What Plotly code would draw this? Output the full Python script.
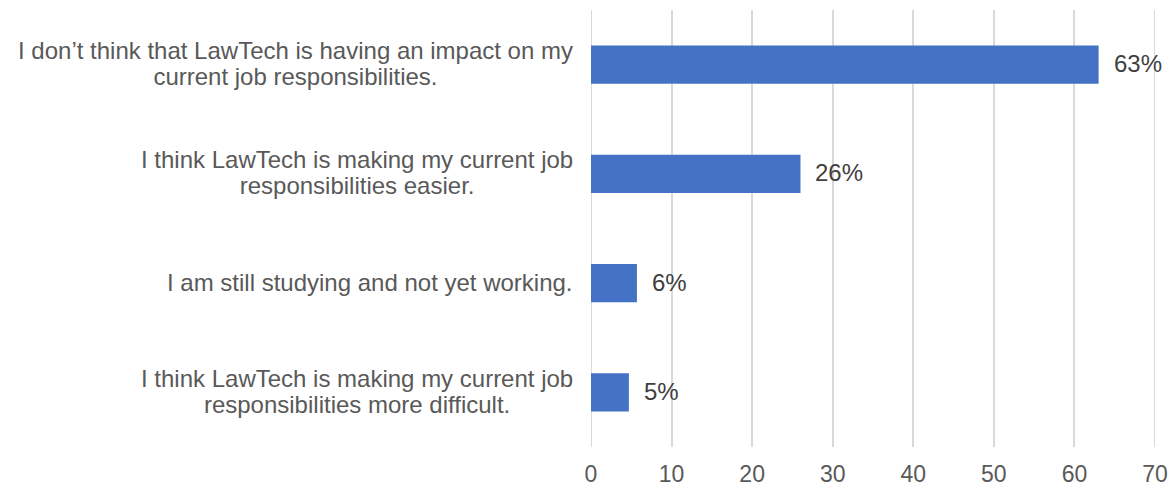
import plotly.graph_objects as go

categories = [
    "I don’t think that LawTech is having an impact on my<br>current job responsibilities.",
    "I think LawTech is making my current job<br>responsibilities easier.",
    "I am still studying and not yet working.",
    "I think LawTech is making my current job<br>responsibilities more difficult.",
]
values = [63.0, 26.0, 5.7, 4.7]
labels = ["63%", "26%", "6%", "5%"]
x_ticks = [0, 10, 20, 30, 40, 50, 60, 70]

font_family = "Liberation Sans, Arial, sans-serif"
gray = "#595959"
grid_color = "#D9D9D9"

fig = go.Figure()
fig.add_trace(go.Bar(
    y=categories, x=values, orientation="h",
    marker=dict(color="#4472C4", line=dict(width=0)),
    hoverinfo="skip",
))


def big(text, size=24):
    return "<br>".join(
        f"<span style='font-size:{size}px'>{part}</span>" for part in text.split("<br>")
    )


annotations = []
for c, v, t in zip(categories, values, labels):
    annotations.append(dict(
        x=v, y=c, xref="x", yref="y", text=t, showarrow=False,
        xanchor="left", xshift=13, yshift=1,
        font=dict(family=font_family, size=24, color="#404040"),
    ))
    annotations.append(dict(
        x=0, y=c, xref="paper", yref="y", text=big(c), showarrow=False,
        xanchor="right", xshift=-16, yshift=1, align="center",
        font=dict(family=font_family, size=20, color=gray),
    ))

# gridlines at the axis ends (plotly hides grid lines on the plot edges)
shapes = [
    dict(type="line", xref="x", yref="paper", x0=xv, x1=xv, y0=0, y1=1,
         line=dict(color=grid_color, width=2), layer="below")
    for xv in (x_ticks[0], x_ticks[-1])
]

fig.update_layout(
    width=1174, height=488,
    margin=dict(l=591, r=19, t=10, b=41),
    paper_bgcolor="white", plot_bgcolor="white",
    bargap=0.652,
    showlegend=False,
    annotations=annotations,
    shapes=shapes,
    xaxis=dict(
        range=[x_ticks[0], x_ticks[-1]], tickvals=x_ticks, showgrid=True,
        gridcolor=grid_color, gridwidth=2, zeroline=False,
        showline=False, ticks="", automargin=False,
        tickfont=dict(family=font_family, size=23, color=gray),
        ticklabelstandoff=11,
    ),
    yaxis=dict(
        categoryorder="array", categoryarray=categories[::-1],
        showticklabels=False, showgrid=False, zeroline=False, ticks="",
        automargin=False,
    ),
)

fig.write_html("out.html")
